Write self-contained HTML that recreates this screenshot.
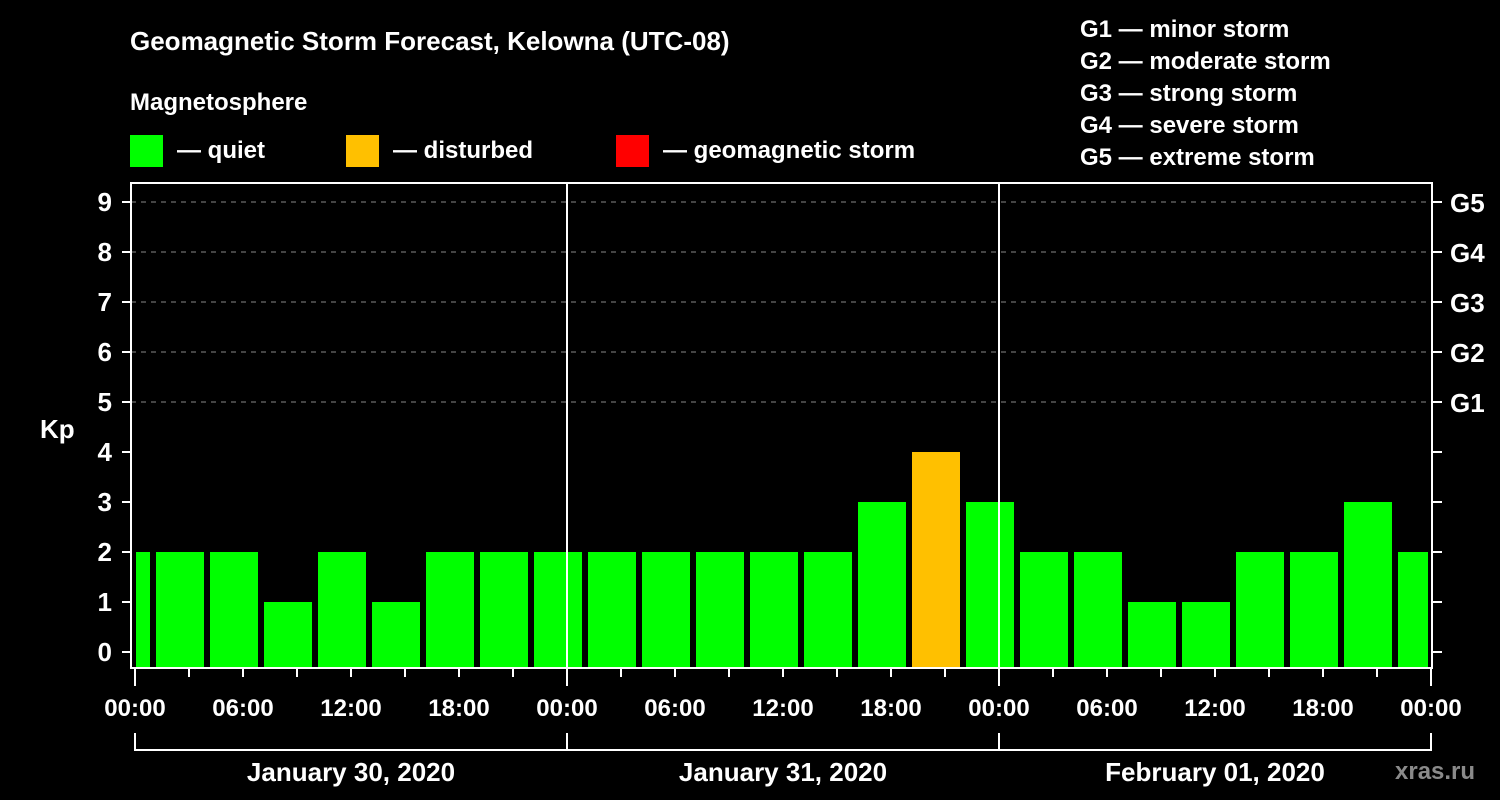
<!DOCTYPE html>
<html><head><meta charset="utf-8"><style>
body{margin:0;background:#000;width:1500px;height:800px;overflow:hidden}
svg{display:block}
text{font-family:"Liberation Sans",sans-serif;font-weight:bold;fill:#fff}
</style></head><body>
<svg id="chart" width="1500" height="800">
<text x="130" y="50" font-size="26">Geomagnetic Storm Forecast, Kelowna (UTC-08)</text>
<text x="130" y="110" font-size="24">Magnetosphere</text>
<g>
<rect x="130" y="135" width="33" height="32" fill="#00ff00"/>
<text x="177" y="158" font-size="24">— quiet</text>
<rect x="346" y="135" width="33" height="32" fill="#ffc000"/>
<text x="393" y="158" font-size="24">— disturbed</text>
<rect x="616" y="135" width="33" height="32" fill="#ff0000"/>
<text x="663" y="158" font-size="24">— geomagnetic storm</text>
</g>
<g font-size="24">
<text x="1080" y="37">G1 — minor storm</text>
<text x="1080" y="69">G2 — moderate storm</text>
<text x="1080" y="101">G3 — strong storm</text>
<text x="1080" y="133">G4 — severe storm</text>
<text x="1080" y="165">G5 — extreme storm</text>
</g>
<text x="40" y="438" font-size="26">Kp</text>
<text x="1395" y="779" font-size="24" fill="#888" style="fill:#8a8a8a">xras.ru</text>
<g id="grid"></g>
<g id="bars"></g>
<g id="axes"></g>
</svg>
<script>
const kpValues=[2,2,2,1,2,1,2,2,2,2,2,2,2,2,3,4,3,2,2,1,1,2,2,3,2];
const barStartHours=-2; // first interval starts 2h before first midnight
const yTicks=[0,1,2,3,4,5,6,7,8,9];
const gLabels=["G1","G2","G3","G4","G5"];
const gLevels=[5,6,7,8,9];
const xTickLabels=["00:00","06:00","12:00","18:00","00:00","06:00","12:00","18:00","00:00","06:00","12:00","18:00","00:00"];
const dayLabels=["January 30, 2020","January 31, 2020","February 01, 2020"];
const totalHours=72;
const X0=135,X1=1431,PL=131,PR=1432,PT=183,PB=668;
const x=h=>X0+(X1-X0)*h/totalHours;
const y=v=>652-50*v;
const NS="http://www.w3.org/2000/svg";
function mk(tag,attrs,parent,txt){const e=document.createElementNS(NS,tag);for(const k in attrs)e.setAttribute(k,attrs[k]);if(txt!==undefined)e.textContent=txt;document.getElementById(parent).appendChild(e);return e;}
// grid
yTicks.forEach(v=>{if(v>=5){const l=mk('line',{x1:PL,x2:PR,y1:y(v),y2:y(v),stroke:'#888','stroke-dasharray':'5,5','stroke-width':1},'grid');

}});
// bars
kpValues.forEach((v,i)=>{const hs=barStartHours+3*i;let a=x(hs)+3,b=x(hs+3)-3;a=Math.max(a,136);b=Math.min(b,1428);
const r=mk('rect',{x:a,y:y(v),width:b-a,height:PB-y(v),fill:v>=5?'#ff0000':(v>=4?'#ffc000':'#00ff00')},'bars');

});
// day separators
for(let d=1;d<dayLabels.length;d++){const l=mk('line',{x1:x(24*d),x2:x(24*d),y1:PT,y2:PB,stroke:'#fff','stroke-width':2},'axes');

}
// frame
const f=mk('rect',{x:PL,y:PT,width:PR-PL,height:PB-PT,fill:'none',stroke:'#fff','stroke-width':2},'axes');


// y ticks
yTicks.forEach(v=>{mk('line',{x1:122,x2:PL,y1:y(v),y2:y(v),stroke:'#fff','stroke-width':2},'axes');
mk('line',{x1:PR,x2:1442,y1:y(v),y2:y(v),stroke:'#fff','stroke-width':2},'axes');
const t=mk('text',{x:112,y:y(v)+9,'font-size':26,'text-anchor':'end'},'axes',String(v));

});
gLabels.forEach((g,i)=>{const t=mk('text',{x:1450,y:y(gLevels[i])+10,'font-size':26},'axes',g);

});
// x ticks
for(let h=0;h<=totalHours;h+=3){const major=h%24===0;mk('line',{x1:x(h),x2:x(h),y1:PB,y2:major?686:677,stroke:'#fff','stroke-width':2},'axes');}
xTickLabels.forEach((lab,i)=>{const t=mk('text',{x:x(6*i),y:716,'font-size':24,'text-anchor':'middle'},'axes',lab);

});
// day bracket
mk('line',{x1:X0,x2:X1,y1:750,y2:750,stroke:'#fff','stroke-width':2},'axes');
for(let d=0;d<=dayLabels.length;d++)mk('line',{x1:x(24*d),x2:x(24*d),y1:733,y2:751,stroke:'#fff','stroke-width':2},'axes');
dayLabels.forEach((lab,d)=>{const t=mk('text',{x:x(24*d+12),y:781,'font-size':26,'text-anchor':'middle'},'axes',lab);

});
</script>
</body></html>
